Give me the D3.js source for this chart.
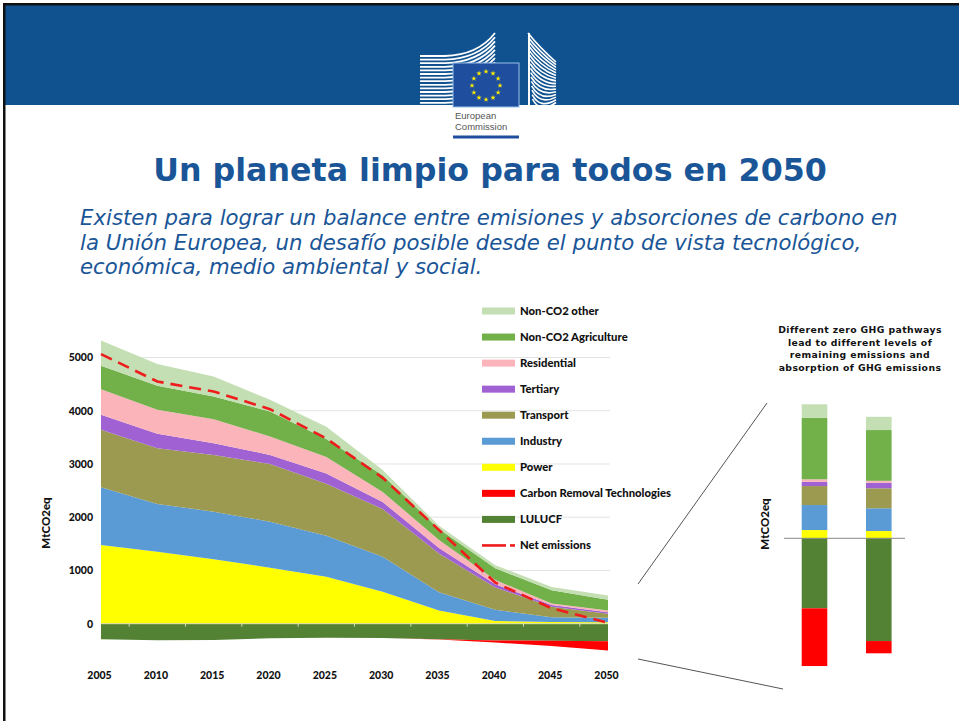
<!DOCTYPE html>
<html><head><meta charset="utf-8">
<script src="https://cdn.jsdelivr.net/npm/d3@7"></script>
<style>body{margin:0;background:#fff}svg{display:block}</style>
</head><body>
<svg id="c" width="959" height="721"></svg>
<script>
// ---------- DATA ----------
const years = [2005, 2010, 2015, 2020, 2025, 2030, 2035, 2040, 2045, 2050];
const power       = [1480, 1353, 1210, 1053, 880, 600, 250, 50, 30, 25];
const industry    = [1084, 897, 895, 864, 770, 656, 340, 210, 90, 85];
const transport   = [1077, 1047, 1065, 1083, 980, 900, 730, 420, 200, 75];
const tertiary    = [282, 269, 221, 171, 190, 130, 100, 60, 30, 30];
const residential = [483, 451, 451, 344, 310, 190, 150, 80, 30, 35];
const agriculture = [438, 451, 425, 470, 340, 310, 210, 220, 250, 200];
const otherNonCO2 = [476, 408, 376, 220, 230, 100, 60, 60, 60, 80];
const lulucf      = [-294, -313, -307, -275, -263, -269, -290, -315, -318, -330];
const carbonRemoval = [0, 0, 0, 0, 0, 0, -5, -40, -100, -175];
const netEmissions  = [5064, 4549, 4361, 4030, 3480, 2740, 1760, 770, 290, 15];
const yTicks = [0, 1000, 2000, 3000, 4000, 5000];

// 2050 zero-GHG pathways (right panel)
const pathways = ["Pathway A", "Pathway B"];
const pwPower       = [33, 29];
const pwIndustry    = [100, 91];
const pwTransport   = [76, 80];
const pwTertiary    = [17, 22];
const pwResidential = [10, 8];
const pwAgriculture = [246, 203];
const pwOther       = [54, 53];
const pwLulucf      = [-280, -411];
const pwCarbonRemoval = [-231, -49];

const legendLabels = ["Non-CO2 other", "Non-CO2 Agriculture", "Residential", "Tertiary", "Transport",
  "Industry", "Power", "Carbon Removal Technologies", "LULUCF", "Net emissions"];

// ---------- STYLE ----------
const colors = {
  "Power": "#ffff00", "Industry": "#5b9bd5", "Transport": "#9c9a50", "Tertiary": "#a062d2",
  "Residential": "#fbb4b9", "Non-CO2 Agriculture": "#72b04a", "Non-CO2 other": "#c4dfb3",
  "LULUCF": "#548235", "Carbon Removal Technologies": "#ff0000"
};
const posKeys = ["Power", "Industry", "Transport", "Tertiary", "Residential", "Non-CO2 Agriculture", "Non-CO2 other"];
const negKeys = ["LULUCF", "Carbon Removal Technologies"];
const posArrays = [power, industry, transport, tertiary, residential, agriculture, otherNonCO2];
const negArrays = [lulucf, carbonRemoval];

const svg = d3.select("#c");
const blue = "#1a5697";

// ---------- HEADER ----------
svg.append("rect").attr("x", 0).attr("y", 0).attr("width", 959).attr("height", 721).attr("fill", "#fff");
svg.append("rect").attr("x", 5).attr("y", 5).attr("width", 954).attr("height", 100).attr("fill", "#10528f");
svg.append("rect").attr("x", 3).attr("y", 3).attr("width", 956).attr("height", 2.5).attr("fill", "#111");
svg.append("rect").attr("x", 3).attr("y", 3).attr("width", 2.5).attr("height", 718).attr("fill", "#111");

// logo: buildings
const logo = svg.append("g");
for (let i = 0; i < 14; i++) {
  const y0 = 56 + i * 3.6;
  logo.append("path")
    .attr("d", `M420,${y0} L445,${y0} Q478,${y0 - 1} 495,${33 + i * 4.2}`)
    .attr("fill", "none").attr("stroke", "#fff").attr("stroke-width", 1.8);
}
for (let i = 0; i < 16; i++) {
  logo.append("path")
    .attr("d", `M${528 + i * 0.3},${33 + i * 4.4} Q${540},${48 + i * 4.4} ${556},${62 + i * 2.7}`)
    .attr("fill", "none").attr("stroke", "#fff").attr("stroke-width", 1.6);
}
logo.append("line").attr("x1", 529).attr("x2", 529).attr("y1", 33).attr("y2", 105).attr("stroke", "#fff").attr("stroke-width", 2);
logo.append("rect").attr("x", 453).attr("y", 63).attr("width", 66).attr("height", 44)
  .attr("fill", "#1f4e9e").attr("stroke", "#9cc0e8").attr("stroke-width", 1);
const starPath = d3.symbol().type(d3.symbolStar).size(9)();
for (let k = 0; k < 12; k++) {
  const a = k * Math.PI / 6;
  logo.append("path").attr("d", starPath)
    .attr("transform", `translate(${486 + 14 * Math.sin(a)},${85.5 - 14 * Math.cos(a)})`)
    .attr("fill", "#ffed00");
}
const logoFont = "Liberation Sans Narrow, Liberation Sans, sans-serif";
logo.append("text").attr("x", 455).attr("y", 119).text("European")
  .attr("font-family", logoFont).attr("font-size", 9.5).attr("fill", "#555");
logo.append("text").attr("x", 455).attr("y", 130).text("Commission")
  .attr("font-family", logoFont).attr("font-size", 9.5).attr("fill", "#555");
logo.append("rect").attr("x", 453).attr("y", 135.5).attr("width", 66).attr("height", 3).attr("fill", "#1f4e9e");

// ---------- TITLE ----------
function fitText(sel, targetWidth, baseSize) {
  const w = sel.node().getComputedTextLength();
  sel.attr("font-size", baseSize * targetWidth / w);
}
const title = svg.append("text").attr("x", 490).attr("y", 181).attr("text-anchor", "middle")
  .attr("font-family", "DejaVu Sans, Verdana, sans-serif").attr("font-weight", "bold")
  .attr("font-size", 28).attr("fill", blue).text("Un planeta limpio para todos en 2050");
fitText(title, 674, 28);

const subLines = [
  "Existen para lograr un balance entre emisiones y absorciones de carbono en",
  "la Unión Europea, un desafío posible desde el punto de vista tecnológico,",
  "económica, medio ambiental y social."
];
const sub = svg.append("g").attr("font-family", "DejaVu Sans, Verdana, sans-serif")
  .attr("font-style", "italic").attr("fill", blue);
const subTexts = subLines.map((t, i) => sub.append("text").attr("x", 80).attr("y", 225 + i * 24.7)
  .attr("font-size", 20).text(t));
const sw = subTexts[0].node().getComputedTextLength();
subTexts.forEach(s => s.attr("font-size", 20 * 818 / sw));

// ---------- MAIN CHART ----------
const x = d3.scalePoint().domain(years).range([101, 608]);
const y = d3.scaleLinear().domain([0, 5000]).range([623.7, 357.5]);
const tableRows = years.map((yr, j) => {
  const r = { year: yr };
  posKeys.forEach((k, i) => r[k] = posArrays[i][j]);
  negKeys.forEach((k, i) => r[k] = Math.abs(negArrays[i][j]));
  return r;
});
const posStack = d3.stack().keys(posKeys)(tableRows);
const negStack = d3.stack().keys(negKeys)(tableRows);

const axisFont = "Lato, Carlito, sans-serif";
const heavy = 900;
// gridlines
svg.append("g").selectAll("line").data(yTicks.filter(t => t > 0)).join("line")
  .attr("x1", 101).attr("x2", 610).attr("y1", d => y(d)).attr("y2", d => y(d))
  .attr("stroke", "#e3e3e3").attr("stroke-width", 1);

const areaPos = d3.area().x(d => x(d.data.year)).y0(d => y(d[0])).y1(d => y(d[1]));
const areaNeg = d3.area().x(d => x(d.data.year)).y0(d => y(-d[0])).y1(d => y(-d[1]));
svg.append("g").selectAll("path").data(posStack).join("path")
  .attr("d", areaPos).attr("fill", d => colors[d.key]);
svg.append("g").selectAll("path").data(negStack).join("path")
  .attr("d", areaNeg).attr("fill", d => colors[d.key]);

// zero axis with ticks between categories
svg.append("line").attr("x1", 101).attr("x2", 608).attr("y1", y(0)).attr("y2", y(0))
  .attr("stroke", "#dfe3b0").attr("stroke-width", 1);
const mids = years.slice(0, -1).map((yr, i) => (x(yr) + x(years[i + 1])) / 2);
svg.append("g").selectAll("line").data(mids).join("line")
  .attr("x1", d => d).attr("x2", d => d).attr("y1", y(0)).attr("y2", y(0) + 3)
  .attr("stroke", "#cfd8b8").attr("stroke-width", 1);

// net emissions line
svg.append("path").datum(years.map((yr, j) => [yr, netEmissions[j]]))
  .attr("d", d3.line().x(d => x(d[0])).y(d => y(d[1])))
  .attr("fill", "none").attr("stroke", "#ee1c1c").attr("stroke-width", 2.6)
  .attr("stroke-dasharray", "12,7");

// y axis labels
const yAxis = d3.axisLeft(y).tickValues(yTicks).tickSize(0).tickPadding(8).tickFormat(d3.format("d"));
const gy = svg.append("g").attr("transform", "translate(101,0)").call(yAxis);
gy.select(".domain").remove();
gy.selectAll("text").attr("font-family", axisFont).attr("font-weight", heavy).attr("font-size", 10.5).attr("fill", "#111");

// x axis labels
const xAxis = d3.axisBottom(x).tickSize(0).tickPadding(0).tickFormat(d3.format("d"));
const gx = svg.append("g").attr("transform", "translate(-2,672)").call(xAxis);
gx.select(".domain").remove();
gx.selectAll("text").attr("font-family", axisFont).attr("font-weight", heavy).attr("font-size", 10.5).attr("fill", "#111");

svg.append("text").attr("transform", "translate(50,523) rotate(-90)").attr("text-anchor", "middle")
  .attr("font-family", axisFont).attr("font-weight", heavy).attr("font-size", 11.5).attr("fill", "#111").text("MtCO2eq");

// legend
const leg = svg.append("g");
legendLabels.forEach((lab, i) => {
  const cy = 311 + i * 26.05;
  if (lab === "Net emissions") {
    leg.append("line").attr("x1", 482).attr("x2", 506).attr("y1", cy).attr("y2", cy).attr("stroke", "#ee1c1c").attr("stroke-width", 2.6);
    leg.append("line").attr("x1", 510).attr("x2", 515).attr("y1", cy).attr("y2", cy).attr("stroke", "#ee1c1c").attr("stroke-width", 2.6);
  } else {
    leg.append("rect").attr("x", 482).attr("y", cy - 3.5).attr("width", 33).attr("height", 7).attr("fill", colors[lab]);
  }
  leg.append("text").attr("x", 520).attr("y", cy + 4).attr("font-family", axisFont).attr("font-weight", heavy)
    .attr("font-size", 11.3).attr("fill", "#111").text(lab);
});

// ---------- RIGHT PANEL ----------
svg.append("line").attr("x1", 638).attr("y1", 584).attr("x2", 767).attr("y2", 403).attr("stroke", "#555").attr("stroke-width", 1);
svg.append("line").attr("x1", 638).attr("y1", 659).attr("x2", 783).attr("y2", 689).attr("stroke", "#555").attr("stroke-width", 1);

const panelTitle = ["Different zero GHG pathways", "lead to different levels of", "remaining emissions and", "absorption of GHG emissions"];
svg.append("g").selectAll("text").data(panelTitle).join("text")
  .attr("x", 860).attr("y", (d, i) => 333 + i * 12.6).attr("text-anchor", "middle")
  .attr("font-family", "DejaVu Sans, Verdana, sans-serif").attr("font-weight", "bold").attr("font-size", 9.3)
  .attr("letter-spacing", 0.4).attr("fill", "#111").text(d => d);

const xb = d3.scaleBand().domain(pathways).range([763, 930.3]).padding(0.602);
const yb = d3.scaleLinear().domain([0, 100]).range([538.3, 513.3]);
const pwRows = pathways.map((p, j) => ({
  name: p,
  "Power": pwPower[j], "Industry": pwIndustry[j], "Transport": pwTransport[j], "Tertiary": pwTertiary[j],
  "Residential": pwResidential[j], "Non-CO2 Agriculture": pwAgriculture[j], "Non-CO2 other": pwOther[j],
  "LULUCF": Math.abs(pwLulucf[j]), "Carbon Removal Technologies": Math.abs(pwCarbonRemoval[j])
}));
const pwPos = d3.stack().keys(posKeys)(pwRows);
const pwNeg = d3.stack().keys(negKeys)(pwRows);
const panel = svg.append("g");
pwPos.forEach(s => {
  panel.append("g").selectAll("rect").data(s).join("rect")
    .attr("x", d => xb(d.data.name)).attr("width", xb.bandwidth())
    .attr("y", d => yb(d[1])).attr("height", d => yb(d[0]) - yb(d[1])).attr("fill", colors[s.key]);
});
pwNeg.forEach(s => {
  panel.append("g").selectAll("rect").data(s).join("rect")
    .attr("x", d => xb(d.data.name)).attr("width", xb.bandwidth())
    .attr("y", d => yb(-d[0])).attr("height", d => yb(-d[1]) - yb(-d[0])).attr("fill", colors[s.key]);
});
svg.append("line").attr("x1", 784).attr("x2", 905).attr("y1", yb(0)).attr("y2", yb(0)).attr("stroke", "#888").attr("stroke-width", 1);
svg.append("text").attr("transform", "translate(769,524) rotate(-90)").attr("text-anchor", "middle")
  .attr("font-family", axisFont).attr("font-weight", heavy).attr("font-size", 11.5).attr("fill", "#111").text("MtCO2eq");
</script>
</body></html>
